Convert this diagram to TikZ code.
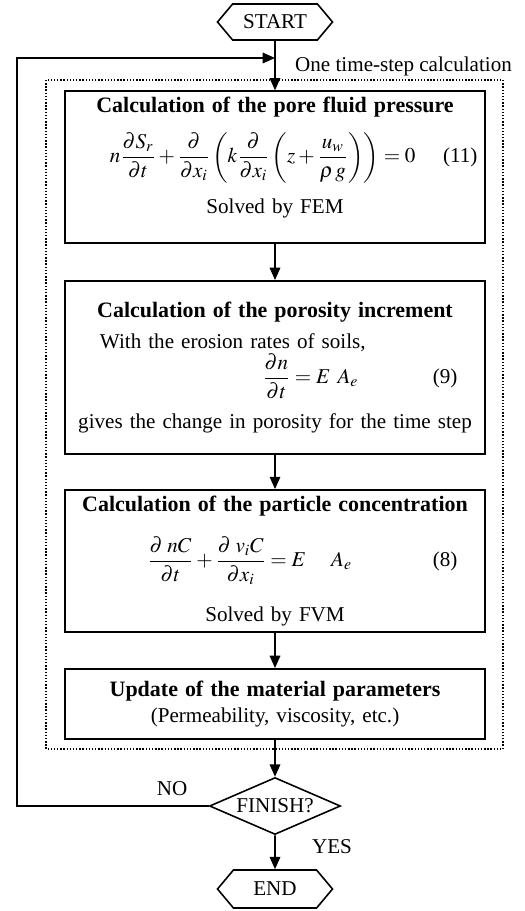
\documentclass[tikz,border=0pt]{standalone}
\usepackage{mathptmx}
\usepackage[no-math]{fontspec}
\setmainfont{Liberation Serif}
\usepackage{amsmath}
\usepackage{tikz}
\usetikzlibrary{shapes.geometric, shapes.symbols, arrows.meta, positioning, calc}
\newcommand{\steptitle}[1]{{\fontsize{12.5}{15}\selectfont\textbf{#1}}}
\tikzset{
  calcbox/.style={rectangle, draw, line width=1.1pt, text width=8.1cm, minimum width=8.4cm, align=center, inner xsep=0.15cm},
  terminal/.style={signal, signal to=east and west, signal pointer angle=100, draw, line width=0.9pt, minimum width=2.3cm, minimum height=0.72cm, inner sep=0pt},
  decision/.style={diamond, draw, line width=0.9pt, aspect=2.3, minimum width=2.62cm, minimum height=1.14cm, inner sep=0pt},
  arrow/.style={-{Triangle[length=7pt, width=6pt]}, line width=0.9pt},
  dotline/.style={densely dotted, line width=0.8pt}
}

\begin{document}
\begin{tikzpicture}[x=0.2mm, y=-0.2mm, font=\fontsize{12}{14.4}\selectfont]
  \useasboundingbox (0,0) rectangle (524,911);

  % frame of one time step
  \draw[dotline] (46,80) rectangle (503,749);
  \node[anchor=west] (steplabel) at (289,66) {One time-step calculation};

  % start / end
  \node[terminal] (start) at (275,22) {START};
  \node[terminal, minimum height=0.76cm] (end) at (275,889) {END};

  % calculation steps
  \node[calcbox, minimum height=2.96cm] (pore) at (275,167) {\steptitle{Calculation of the pore fluid pressure}\\[7.5pt]
    \makebox[8.1cm][l]{\hspace{0.75cm}$n\dfrac{\partial S_r}{\partial t}+\dfrac{\partial}{\partial x_i}\left(k\dfrac{\partial}{\partial x_i}\left(z+\dfrac{u_w}{\rho\, g}\right)\right)=0$\hfill(11)}\\[8pt]
    Solved by FEM\\[-1pt]\mbox{}};
  \node[calcbox, minimum height=3.46cm] (porosity) at (275,367.5) {\steptitle{Calculation of the porosity increment}\\[3.5pt]
    \makebox[8.1cm][l]{\hspace{0.55cm}With the erosion rates of soils,}\\
    \makebox[8.1cm][l]{\hspace{3.8cm}$\dfrac{\partial n}{\partial t}=E\;\,A_e$\hfill(9)\hspace{0.4cm}}\\[7.7pt]
    gives the change in porosity for the time step};
  \node[calcbox, minimum height=2.76cm] (particle) at (275,561) {\steptitle{Calculation of the particle concentration}\\[10.8pt]
    \makebox[8.1cm][l]{\hspace{1.5cm}$\dfrac{\partial\;nC}{\partial t}+\dfrac{\partial\;v_iC}{\partial x_i}=E\hspace{1.2em}A_e$\hfill(8)\hspace{0.4cm}}\\[11.7pt]
    Solved by FVM};
  \node[calcbox, minimum height=1.4cm] (update) at (275,704) {\steptitle{Update of the material parameters}\\(Permeability, viscosity, etc.)};

  % decision
  \node[decision] (finish) at (275,806) {FINISH?};
  \node (nolabel) at (172,789) {NO};
  \node (yeslabel) at (332,847) {YES};

  \coordinate (join) at (275,58);
  \coordinate (back) at (17,58);

  \draw[arrow] (start) -- (pore);
  \draw[arrow] (pore) -- (porosity);
  \draw[arrow] (porosity) -- (particle);
  \draw[arrow] (particle) -- (update);
  \draw[arrow] (update) -- (finish);
  \draw[arrow] (finish) -- (end);
  \draw[arrow] (finish.west) -| (back) -- (join);
\end{tikzpicture}
\end{document}
